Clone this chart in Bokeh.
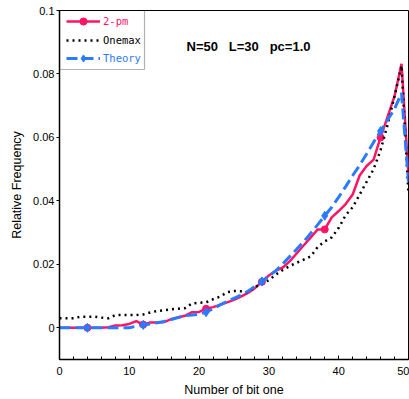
from bokeh.plotting import figure
from bokeh.models import (ColumnDataSource, Legend, LegendItem, FixedTicker, Label,
                          BoxAnnotation)
from bokeh.embed import file_html
from bokeh.resources import INLINE

# ---- data ----
bits = list(range(51))
pm2 = [0, 0, 0, 0, 0, 0, 0, 0.0002, 0.0007, 0.0008,
       0.0012, 0.0021, 0.0010, 0.0017, 0.0017, 0.0018, 0.0027, 0.0033, 0.0038, 0.0049,
       0.0050, 0.0060, 0.0065, 0.0072, 0.0080, 0.0088, 0.0098, 0.0110, 0.0125, 0.0145,
       0.0165, 0.0180, 0.0190, 0.0210, 0.0235, 0.0260, 0.0285, 0.0310, 0.0310, 0.0348,
       0.0368, 0.0390, 0.0420, 0.0480, 0.0510, 0.0530, 0.0600, 0.0665, 0.0730, 0.0832,
       0.0480]
onemax = [0.0030, 0.0030, 0.0030, 0.0035, 0.0035, 0.0035, 0.0032, 0.0030, 0.0040, 0.0040,
          0.0040, 0.0040, 0.0042, 0.0048, 0.0053, 0.0055, 0.0058, 0.0060, 0.0062, 0.0077,
          0.0079, 0.0080, 0.0090, 0.0098, 0.0112, 0.0116, 0.0115, 0.0112, 0.0128, 0.0140,
          0.0150, 0.0168, 0.0182, 0.0195, 0.0205, 0.0215, 0.0225, 0.0255, 0.0272, 0.0285,
          0.0315, 0.0355, 0.0380, 0.0420, 0.0460, 0.0500, 0.0560, 0.0640, 0.0730, 0.0826,
          0.0420]
theory = [0, 0, 0, 0, 0, 0, 0, 0, 0, 0,
          0, 0.0005, 0.0009, 0.0012, 0.0016, 0.0020, 0.0026, 0.0032, 0.0038, 0.0040,
          0.0043, 0.0049, 0.0060, 0.0072, 0.0083, 0.0093, 0.0103, 0.0115, 0.0130, 0.0146,
          0.0163, 0.0180, 0.0202, 0.0225, 0.0248, 0.0272, 0.0298, 0.0325, 0.0353, 0.0380,
          0.0412, 0.0445, 0.0480, 0.0512, 0.0548, 0.0585, 0.0620, 0.0655, 0.0690, 0.0740,
          0.0460]
marker_idx = [4, 12, 21, 29, 38, 46]
x_ticks = [0, 10, 20, 30, 40, 50]
x_minor = [2, 4, 6, 8, 12, 14, 16, 18, 22, 24, 26, 28, 32, 34, 36, 38, 42, 44, 46, 48]
y_ticks = [0, 0.02, 0.04, 0.06, 0.08, 0.1]
y_tick_labels = ["0", "0.02", "0.04", "0.06", "0.08", "0.1"]
series_names = ["2-pm", "Onemax", "Theory"]
title_text = "N=50\u00a0\u00a0\u00a0L=30\u00a0\u00a0\u00a0pc=1.0"

PINK = "#ff1466"
BLUE = "#2a7bff"
FONT = "Liberation Sans"

src = ColumnDataSource(dict(x=bits, pm2=pm2, onemax=onemax, theory=theory))
msrc = ColumnDataSource(dict(x=[bits[i] for i in marker_idx],
                             pm2=[pm2[i] for i in marker_idx],
                             theory=[theory[i] for i in marker_idx]))

p = figure(width=409, height=399, x_range=(0, 50), y_range=(-0.01, 0.1),
           output_backend="svg", toolbar_location=None,
           min_border_left=59, min_border_right=1, min_border_top=10, min_border_bottom=40)
p.grid.visible = False
p.outline_line_color = "black"
p.outline_line_width = 1
p.background_fill_color = "white"
p.border_fill_color = "white"

r_pm = p.line("x", "pm2", source=src, line_color=PINK, line_width=2.5)
r_pm_m = p.scatter("x", "pm2", source=msrc, marker="circle", size=7,
                   fill_color=PINK, line_color=PINK)
r_om = p.line("x", "onemax", source=src, line_color="black", line_width=2.5,
              line_dash="2 4")
r_th = p.line("x", "theory", source=src, line_color=BLUE, line_width=3,
              line_dash="11 5")
r_th_m = p.scatter("x", "theory", source=msrc, marker="diamond", size=9,
                   fill_color=BLUE, line_color=BLUE)

# axes
xa = p.xaxis[0]
xa.ticker = FixedTicker(ticks=x_ticks, minor_ticks=x_minor)
xa.major_tick_in = 4
xa.major_tick_out = 0
xa.minor_tick_in = 3
xa.minor_tick_out = 0
xa.axis_label = "Number of bit one"
xa.major_label_standoff = 7

ya = p.yaxis[0]
ya.ticker = FixedTicker(ticks=y_ticks, minor_ticks=[])
ya.major_label_overrides = {t: s for t, s in zip(y_ticks, y_tick_labels)}
ya.major_tick_in = 0
ya.major_tick_out = 3
ya.minor_tick_in = 0
ya.minor_tick_out = 0
ya.axis_label = "Relative Frequency"
ya.major_label_standoff = 2
ya.axis_label_standoff = 6

for ax in (xa, ya):
    ax.axis_line_color = "black"
    ax.axis_line_width = 1.5
    ax.major_tick_line_color = "black"
    ax.minor_tick_line_color = "black"
    ax.major_label_text_font = FONT
    ax.major_label_text_font_size = "11px"
    ax.major_label_text_color = "black"
    ax.axis_label_text_font = FONT
    ax.axis_label_text_font_size = "12.5px"
    ax.axis_label_text_font_style = "normal"
    ax.axis_label_text_color = "black"
xa.axis_label_standoff = 5

# title label
p.add_layout(Label(x=18.2, y=0.0888, text=title_text, text_font=FONT,
                   text_font_size="13px", text_font_style="bold",
                   text_align="left", text_baseline="middle", text_color="black"))

# legend (one per entry to allow coloured labels)
rows = [([r_pm, r_pm_m], PINK, 329), ([r_om], "black", 310), ([r_th, r_th_m], BLUE, 292)]
for (rends, col, vy), name in zip(rows, series_names):
    lg = Legend(items=[LegendItem(label=name, renderers=rends)], location=(7, vy),
                glyph_width=34, glyph_height=18, label_height=18, label_standoff=3,
                padding=0, margin=0, border_line_color=None, background_fill_alpha=0,
                label_text_font="DejaVu Sans Mono", label_text_font_size="10.5px",
                label_text_color=col)
    p.add_layout(lg, "center")

p.add_layout(BoxAnnotation(left=0, right=85, top=349, bottom=290,
                           left_units="screen", right_units="screen",
                           top_units="screen", bottom_units="screen",
                           fill_alpha=0, line_color="black", line_width=1.2))

open("out.html", "w").write(file_html(p, INLINE))
